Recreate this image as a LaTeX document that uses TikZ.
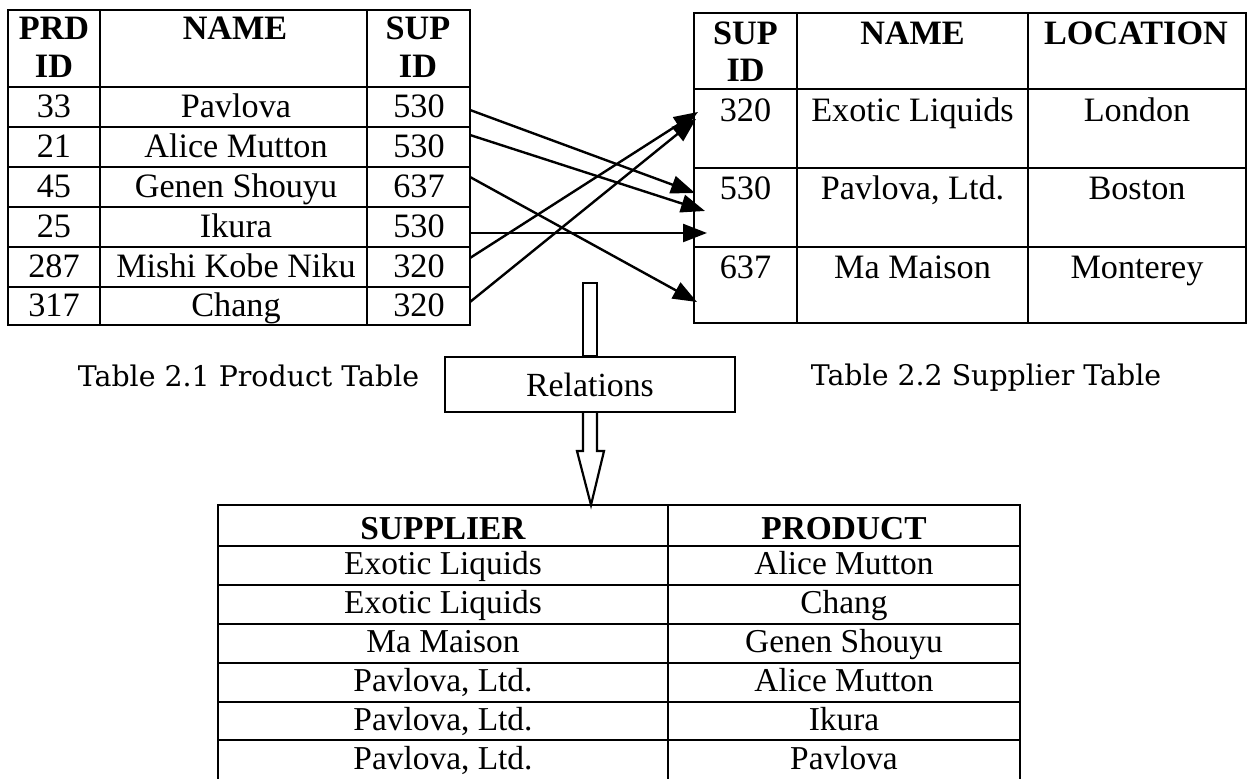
\documentclass[tikz,border=0pt]{standalone}
\usepackage{fontspec}
\setmainfont{Liberation Serif}
\newfontfamily\captionface{DejaVu Serif}
\usetikzlibrary{arrows.meta,calc}

\begin{document}
\begin{tikzpicture}[x=0.5pt,y=-0.5pt,
  grid/.style={line width=1.3pt},
  cell/.style={inner sep=0pt, anchor=base, font=\fontsize{17.1}{20}\selectfont},
  head/.style={inner sep=0pt, anchor=base, font=\fontsize{17.1}{20}\selectfont\bfseries},
  rcell/.style={inner sep=0pt, anchor=base, font=\fontsize{16.7}{20}\selectfont},
  rhead/.style={inner sep=0pt, anchor=base, font=\fontsize{16.7}{20}\selectfont\bfseries},
  captext/.style={inner sep=0pt, anchor=base, font=\captionface\fontsize{14.2}{17}\selectfont},
  link/.style={line width=1.2pt, -{Triangle[length=12pt,width=9pt]}},
  hollow/.style={line width=1.1pt, line join=miter},
]
\useasboundingbox (0,0) rectangle (1248,779);

% ---------- Product table ----------
\draw[grid] (8,10) rectangle (470,325);
\foreach \y in {87,127,167,207,247,287} \draw[grid] (8,\y) -- (470,\y);
\foreach \x in {100,367} \draw[grid] (\x,10) -- (\x,325);
\node[head] (pH1a) at (54,40) {PRD};
\node[head] (pH1b) at (54,78) {ID};
\node[head] (pH2)  at (235,40) {NAME};
\node[head] (pH3a) at (418,40) {SUP};
\node[head] (pH3b) at (418,78) {ID};
\foreach \b/\id/\nm/\sup [count=\i] in
  {118/33/Pavlova/530, 158/21/Alice Mutton/530, 198/45/Genen Shouyu/637,
   238/25/Ikura/530, 278/287/Mishi Kobe Niku/320, 317/317/Chang/320}
{
  \node[cell] (pid\i)   at (54,\b)  {\id};
  \node[cell] (pname\i) at (236,\b) {\nm};
  \node[cell] (psup\i)  at (419,\b) {\sup};
}
\node[captext] (pcap) at (248.5,387) {Table 2.1 Product Table};

% ---------- Supplier table ----------
\draw[grid] (694,13) rectangle (1246,323);
\foreach \y in {89,168,247} \draw[grid] (694,\y) -- (1246,\y);
\foreach \x in {797,1028} \draw[grid] (\x,13) -- (\x,323);
\node[head] (sH1a) at (745.5,45) {SUP};
\node[head] (sH1b) at (745.5,82) {ID};
\node[head] (sH2)  at (912.5,45) {NAME};
\node[head] (sH3)  at (1136,45)  {LOCATION};
\node[cell] (sid1)  at (745.5,122) {320};
\node[cell] (snm1)  at (912.5,122) {Exotic Liquids};
\node[cell] (sloc1) at (1137,122)  {London};
\node[cell] (sid2)  at (745.5,200) {530};
\node[cell] (snm2)  at (912.5,200) {Pavlova, Ltd.};
\node[cell] (sloc2) at (1137,200)  {Boston};
\node[cell] (sid3)  at (745.5,279) {637};
\node[cell] (snm3)  at (912.5,279) {Ma Maison};
\node[cell] (sloc3) at (1137,279)  {Monterey};
\node[captext] (scap) at (986,386) {Table 2.2 Supplier Table};

% ---------- foreign-key links ----------
\coordinate (a1) at (470,110); \coordinate (b1) at (695,193);
\coordinate (a2) at (470,135); \coordinate (b2) at (705,211);
\coordinate (a3) at (470,177); \coordinate (b3) at (697,302);
\coordinate (a4) at (470,233); \coordinate (b4) at (707,233);
\coordinate (a5) at (470,258); \coordinate (b5) at (698,112);
\coordinate (a6) at (470,302); \coordinate (b6) at (696,119);
\foreach \k in {1,...,6} \draw[link] (a\k) -- (b\k);

% ---------- Relations box and hollow arrow ----------
\node[draw, line width=1.1pt, minimum width=145pt, minimum height=27.5pt,
      inner sep=0pt, font=\fontsize{16.9}{20}\selectfont] (rel) at (590,384.5) {\raisebox{-1pt}{Relations}};
\coordinate (shaftTop) at (590,283);
\coordinate (btip) at (591,505);
\draw[hollow] ($(shaftTop)+(-7,0)$) rectangle ($(rel.north)+(7,0)$);
\draw[hollow] ($(rel.south)+(-7,0)$) -- ++(0,38) -- ++(-6,0) -- (btip)
   -- ($(rel.south)+(14,38)$) -- ++(-7,0) -- ($(rel.south)+(7,0)$);

% ---------- Result table ----------
\draw[grid] (218,779) -- (218,505) -- (1020,505) -- (1020,779);
\draw[grid] (668,505) -- (668,779);
\foreach \y in {546,585,624,663,702,740} \draw[grid] (218,\y) -- (1020,\y);
\node[rhead] (rH1) at (443,540) {SUPPLIER};
\node[rhead] (rH2) at (844,540) {PRODUCT};
\node[rcell] (rs1) at (443,575) {Exotic Liquids};
\node[rcell] (rp1) at (844,575) {Alice Mutton};
\node[rcell] (rs2) at (443,614) {Exotic Liquids};
\node[rcell] (rp2) at (844,614) {Chang};
\node[rcell] (rs3) at (443,653) {Ma Maison};
\node[rcell] (rp3) at (844,653) {Genen Shouyu};
\node[rcell] (rs4) at (443,692) {Pavlova, Ltd.};
\node[rcell] (rp4) at (844,692) {Alice Mutton};
\node[rcell] (rs5) at (443,731) {Pavlova, Ltd.};
\node[rcell] (rp5) at (844,731) {Ikura};
\node[rcell] (rs6) at (443,770) {Pavlova, Ltd.};
\node[rcell] (rp6) at (844,770) {Pavlova};
\end{tikzpicture}
\end{document}
